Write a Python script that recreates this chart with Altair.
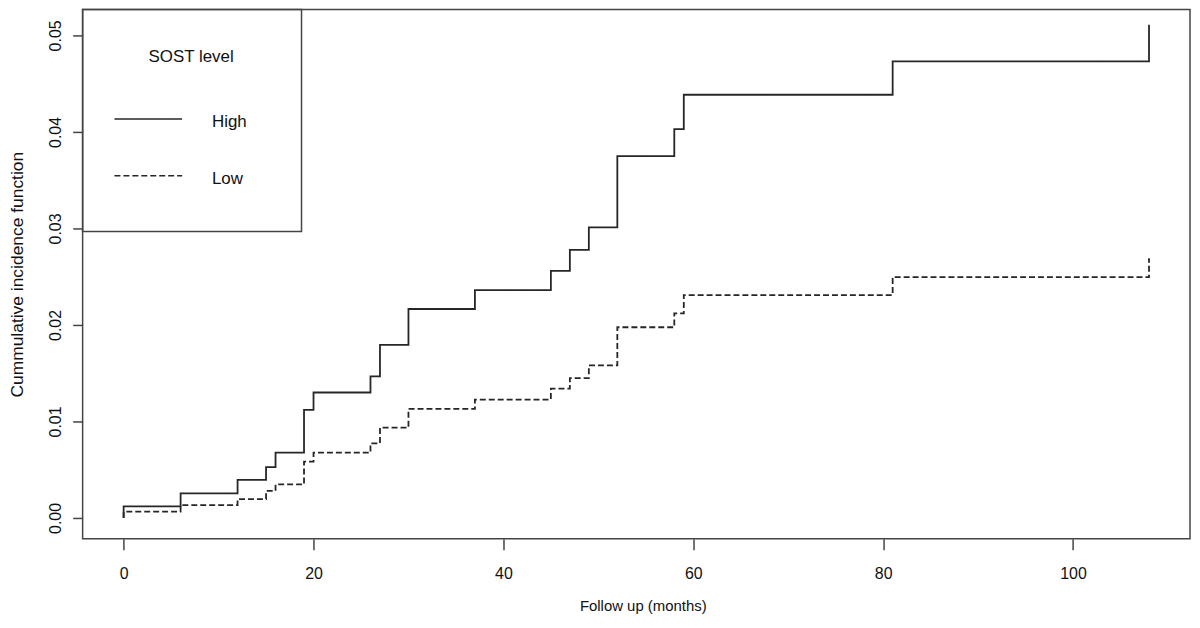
import altair as alt
import pandas as pd

# Follow-up times (months) where the cumulative incidence steps
times = [0, 0, 6, 12, 15, 16, 19, 20, 26, 27, 30, 37, 45, 47, 49, 52, 58, 59, 81, 108]
# Cumulative incidence, SOST level High
high = [0, 0.0012, 0.00255, 0.00395, 0.00526, 0.00677, 0.0112, 0.0130, 0.01467, 0.01794,
        0.02165, 0.0236, 0.0256, 0.02777, 0.0301, 0.0375, 0.0403, 0.04385, 0.0473, 0.0511]
# Cumulative incidence, SOST level Low
low = [0, 0.00065, 0.00134, 0.00196, 0.0028, 0.00347, 0.00584, 0.00677, 0.00773, 0.00935,
       0.0113, 0.01227, 0.0134, 0.0145, 0.0158, 0.01976, 0.0212, 0.0231, 0.02495, 0.0269]
series_names = ["High", "Low"]
x_ticks = [0, 20, 40, 60, 80, 100]
y_ticks = [0.00, 0.01, 0.02, 0.03, 0.04, 0.05]

FONT = "Liberation Sans"
INK = "#262626"
W, H = 1113, 532

rows = []
for name, vals in zip(series_names, [high, low]):
    for i, (t, v) in enumerate(zip(times, vals)):
        rows.append({"series": name, "time": t, "cif": v, "idx": i})
df = pd.DataFrame(rows)

dash_scale = alt.Scale(domain=series_names, range=[[1, 0], [6, 3]])

lines = alt.Chart(df).mark_line(interpolate="step-after", strokeWidth=1.8, color=INK).encode(
    x=alt.X("time:Q",
            scale=alt.Scale(domain=[-4.32, 112.32], nice=False, zero=False),
            axis=alt.Axis(values=x_ticks, title="Follow up (months)", grid=False, domain=False,
                          tickSize=11, tickColor="#444", tickWidth=1.5,
                          labelFont=FONT, labelFontSize=16, labelColor="#111", labelPadding=16,
                          titleFont=FONT, titleFontSize=15, titleFontWeight="normal", titleColor="#111",
                          titleX=563, titleY=67, titleBaseline="middle", titleAlign="center")),
    y=alt.Y("cif:Q",
            scale=alt.Scale(domain=[-0.002165, 0.05268], nice=False, zero=False),
            axis=alt.Axis(values=y_ticks, format=".2f", title="Cummulative incidence function",
                          grid=False, domain=False, tickSize=10, tickColor="#444", tickWidth=1.5,
                          labelFont=FONT, labelFontSize=16, labelColor="#111", labelAngle=270,
                          labelAlign="center", labelBaseline="bottom", labelPadding=9,
                          titleFont=FONT, titleFontSize=17.5, titleFontWeight="normal", titleColor="#111",
                          titleAngle=270, titleX=-65, titleY=266, titleBaseline="middle",
                          titleAlign="center")),
    strokeDash=alt.StrokeDash("series:N", scale=dash_scale, legend=None),
    detail="series:N",
    order="idx:Q",
)

# Legend box (top-left, as in R's legend("topleft"))
box = alt.Chart(pd.DataFrame({"k": [0]})).mark_rect(
    fill=None, stroke="#444", strokeWidth=1.5
).encode(x=alt.value(0), x2=alt.value(220), y=alt.value(0), y2=alt.value(223))

legend_title = alt.Chart(pd.DataFrame({"t": ["SOST level"]})).mark_text(
    font=FONT, fontSize=17, color="#111", align="center", baseline="middle"
).encode(text="t:N", x=alt.value(109), y=alt.value(48))

legend_layers = []
legend_y = [110, 167]
for name, ly in zip(series_names, legend_y):
    d = pd.DataFrame({"series": [name]})
    legend_layers.append(
        alt.Chart(d).mark_rule(strokeWidth=1.6, color=INK).encode(
            x=alt.value(32), x2=alt.value(100), y=alt.value(ly),
            strokeDash=alt.StrokeDash("series:N", scale=dash_scale, legend=None))
    )
    legend_layers.append(
        alt.Chart(d).mark_text(font=FONT, fontSize=17, color="#111", align="left", baseline="middle").encode(
            text="series:N", x=alt.value(130), y=alt.value(ly + 3))
    )

chart = alt.layer(lines, box, legend_title, *legend_layers).properties(
    width=W, height=H,
    autosize=alt.AutoSizeParams(type="none"),
    padding={"left": 75, "top": 0, "right": 2, "bottom": 80},
).configure(background="white").configure_view(stroke="#444", strokeWidth=1.5)

chart.save("out.html", embed_options={"renderer": "svg", "actions": False})
